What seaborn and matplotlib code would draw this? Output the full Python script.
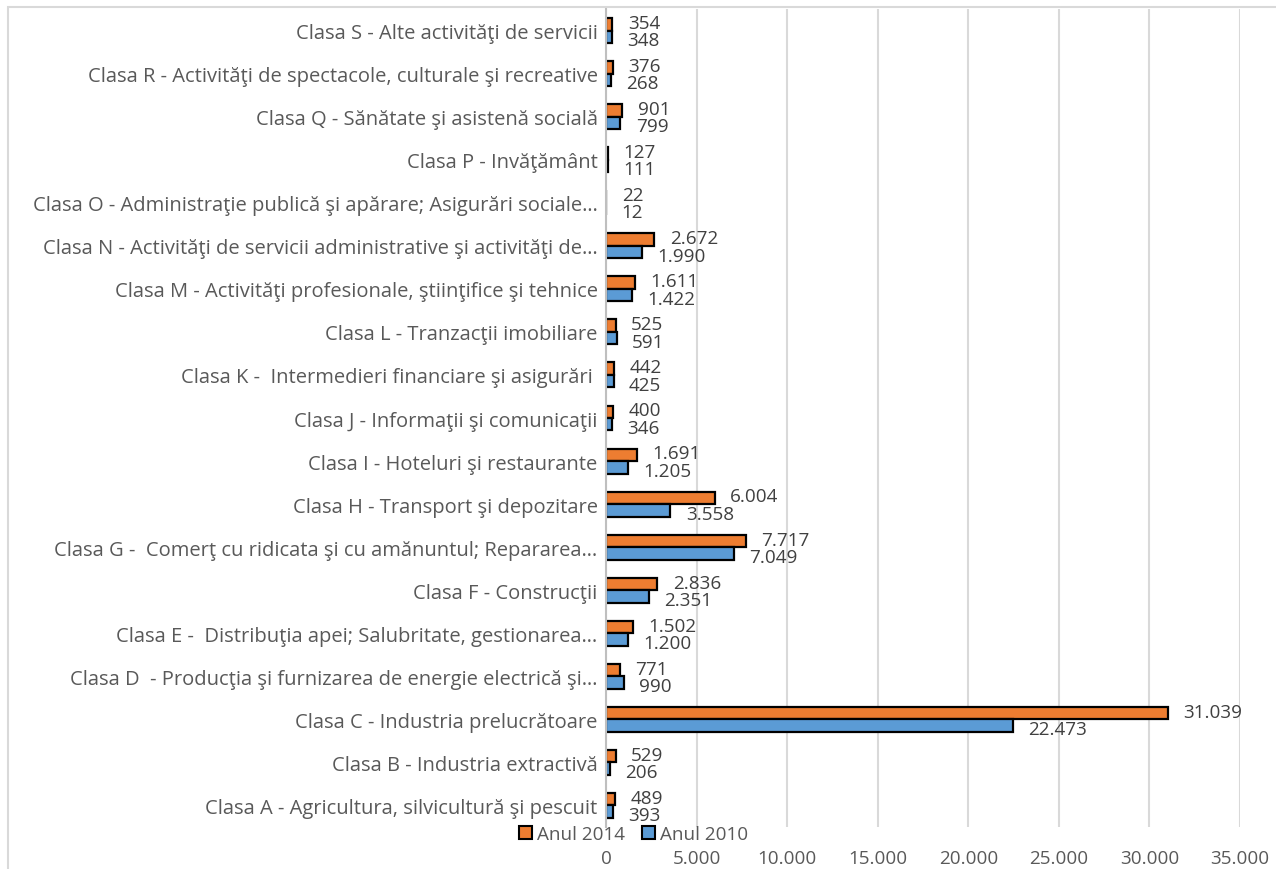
import matplotlib
matplotlib.use("Agg")
import matplotlib.pyplot as plt
from matplotlib.patches import Rectangle, Patch
import seaborn as sns
import pandas as pd

# Economic activity classes (CAEN), listed top to bottom
categories = [
    "Clasa S - Alte activităţi de servicii",
    "Clasa R - Activităţi de spectacole, culturale şi recreative",
    "Clasa Q - Sănătate şi asistenă socială",
    "Clasa P - Invăţământ",
    "Clasa O - Administraţie publică şi apărare; Asigurări sociale…",
    "Clasa N - Activităţi de servicii administrative şi activităţi de…",
    "Clasa M - Activităţi profesionale, ştiinţifice şi tehnice",
    "Clasa L - Tranzacţii imobiliare",
    "Clasa K -  Intermedieri financiare şi asigurări ",
    "Clasa J - Informaţii şi comunicaţii",
    "Clasa I - Hoteluri şi restaurante",
    "Clasa H - Transport şi depozitare",
    "Clasa G -  Comerţ cu ridicata şi cu amănuntul; Repararea…",
    "Clasa F - Construcţii",
    "Clasa E -  Distribuţia apei; Salubritate, gestionarea…",
    "Clasa D  - Producţia şi furnizarea de energie electrică şi…",
    "Clasa C - Industria prelucrătoare",
    "Clasa B - Industria extractivă",
    "Clasa A - Agricultura, silvicultură şi pescuit",
]
values_2014 = [354, 376, 901, 127, 22, 2672, 1611, 525, 442, 400,
               1691, 6004, 7717, 2836, 1502, 771, 31039, 529, 489]
values_2010 = [348, 268, 799, 111, 12, 1990, 1422, 591, 425, 346,
               1205, 3558, 7049, 2351, 1200, 990, 22473, 206, 393]
series_names = ["Anul 2014", "Anul 2010"]
x_ticks = [0, 5000, 10000, 15000, 20000, 25000, 30000, 35000]

ORANGE = "#ED7D31"
BLUE = "#5B9BD5"
TEXT = "#595959"
LABEL = "#404040"
GRID = "#D9D9D9"
FS_CAT = 14.5
FS = 13.6

df = pd.DataFrame({
    "clasa": categories * 2,
    "valoare": values_2014 + values_2010,
    "an": [series_names[0]] * len(categories) + [series_names[1]] * len(categories),
})


def fmt(v):
    return f"{v:,}".replace(",", ".")


sns.set_theme(style="white")
plt.rcParams["font.family"] = ["Open Sans", "DejaVu Sans"]

fig = plt.figure(figsize=(12.76, 8.70), dpi=100)
ax = fig.add_axes([606 / 1276, 1 - 828 / 870, (1240 - 606) / 1276, (828 - 10) / 870])

sns.barplot(
    data=df, y="clasa", x="valoare", hue="an", orient="h",
    hue_order=series_names, order=categories,
    palette=[ORANGE, BLUE], edgecolor="black", linewidth=1.6,
    width=0.58, saturation=1, legend=False, ax=ax,
)

ax.set_xlim(0, 35000)
ax.set_ylim(len(categories) - 0.5, -0.5)
ax.set_xticks(x_ticks)
ax.set_xticklabels([fmt(t) for t in x_ticks])
ax.set_xlabel("")
ax.set_ylabel("")
ax.xaxis.grid(True, color=GRID, linewidth=1.5)
ax.set_axisbelow(True)
for side in ("top", "right", "bottom"):
    ax.spines[side].set_visible(False)
ax.spines["left"].set_color("#BFBFBF")
ax.spines["left"].set_linewidth(1.5)
ax.tick_params(axis="x", length=0, pad=15.5, labelsize=FS, labelcolor=TEXT)
ax.tick_params(axis="y", length=0, pad=6, labelsize=FS_CAT, labelcolor=TEXT)

# Value labels at the outer end of each bar
for container, vals, dy in zip(ax.containers, [values_2014, values_2010], [1.0, -2.5]):
    for bar, v in zip(container.patches, vals):
        y = bar.get_y() + bar.get_height() / 2
        ax.annotate(fmt(v), xy=(v, y), xytext=(11, dy), textcoords="offset points",
                    ha="left", va="center", fontsize=FS, color=LABEL,
                    annotation_clip=False)

# Legend between the plot area and the tick labels
handles = [Patch(facecolor=ORANGE, edgecolor="black", linewidth=1.5),
           Patch(facecolor=BLUE, edgecolor="black", linewidth=1.5)]
fig.legend(handles, series_names, loc="center left",
           bbox_to_anchor=(519 / 1276, 1 - 835 / 870), ncol=2, frameon=False,
           fontsize=FS, labelcolor=TEXT, handlelength=0.7, handleheight=0.7,
           handletextpad=0.25, columnspacing=0.9, borderaxespad=0, borderpad=0)

# Chart-area border
fig.add_artist(Rectangle((8 / 1276, -0.1), 1.2, 1 - 8 / 870 + 0.1,
                         transform=fig.transFigure, fill=False,
                         edgecolor=GRID, linewidth=1.5))

fig.savefig("out.png", dpi=100)
